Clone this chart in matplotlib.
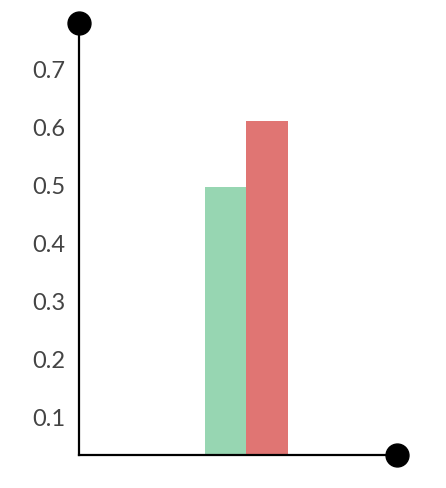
import matplotlib
matplotlib.use("Agg")
import matplotlib.pyplot as plt

series = ["A", "B"]
values = [0.497, 0.610]
colors = ["#97D6B2", "#E07573"]
yticks = [0.1, 0.2, 0.3, 0.4, 0.5, 0.6, 0.7]

fig = plt.figure(figsize=(4.46, 4.89), dpi=100)
ax = fig.add_axes([79/446, 1-456/489, (397-79)/446, (456-24)/489])

width = 0.4
offsets = [-width/2, width/2]
for off, v, c in zip(offsets, values, colors):
    ax.bar(0 + off, v, width=width, color=c, linewidth=0)

ymin, ymax = 0.034, 0.779
xmin, xmax = -1.61, 1.455
ax.set_ylim(ymin, ymax)
ax.set_xlim(xmin, xmax)

ax.set_yticks(yticks)
ax.set_yticklabels([f"{t:.1f}" for t in yticks], fontsize=17, color="#444444",
                   family=["Lato", "DejaVu Sans"])
ax.tick_params(axis="y", length=0, pad=10)
ax.set_xticks([])

for s in ["top", "right"]:
    ax.spines[s].set_visible(False)
for s in ["left", "bottom"]:
    ax.spines[s].set_linewidth(1.6)
    ax.spines[s].set_color("black")

ax.plot([xmin], [ymax], "o", color="black", markersize=16.5, clip_on=False, zorder=5)
ax.plot([xmax], [ymin], "o", color="black", markersize=16.5, clip_on=False, zorder=5)

fig.savefig("out.png", dpi=100)
